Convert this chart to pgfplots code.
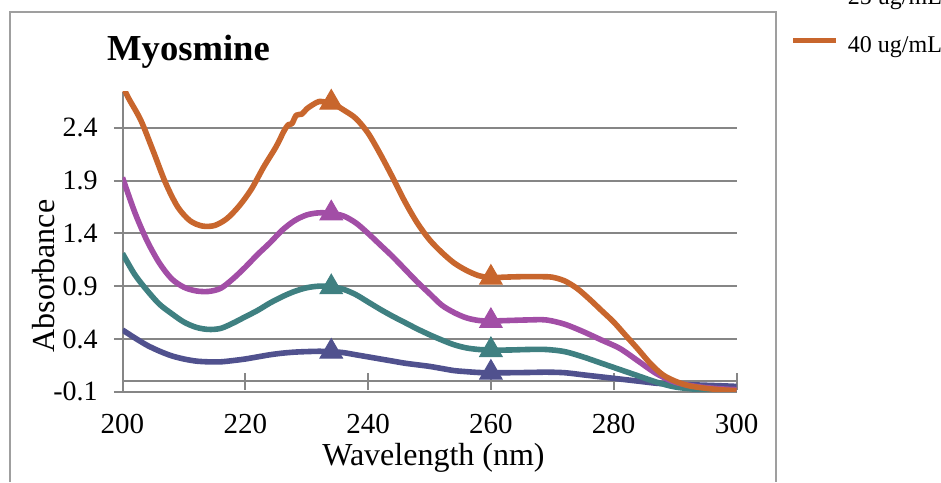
\documentclass[border=0pt]{standalone}
\usepackage{pgfplots}
\pgfplotsset{compat=1.18}
\usepackage{fontspec}
\setmainfont{Liberation Serif}
\definecolor{cnavy}{RGB}{80,81,142}
\definecolor{cteal}{RGB}{63,128,129}
\definecolor{cpurple}{RGB}{162,78,166}
\definecolor{corange}{RGB}{200,102,45}
\definecolor{cgrid}{RGB}{134,134,134}
\begin{document}
\begin{tikzpicture}
\begin{axis}[
    name=ax, at={(0,0)}, anchor=south west,
    scale only axis, width=307pt, height=149.85pt,
    xmin=200, xmax=300, ymin=-0.1, ymax=2.74,
    axis y line=left, axis x line=middle,
    every inner x axis line/.append style={-},
    every outer y axis line/.append style={-},
    axis line style={cgrid, line width=1pt},
    hide obscured x ticks=false,
    xtick={200,220,...,300},
    ytick={-0.1,0.4,0.9,1.4,1.9,2.4},
    major tick length=8.5pt, tick align=center,
    tick style={cgrid, line width=1pt},
    ymajorgrids, major grid style={cgrid, line width=1pt},
    /pgf/number format/assume math mode=true,
    xticklabel style={font=\fontsize{14.5}{16}\selectfont, anchor=base, yshift=-21.9pt},
    yticklabel style={font=\fontsize{14}{16}\selectfont, anchor=east, inner sep=0pt, xshift=-8pt,
        /pgf/number format/.cd, fixed, fixed zerofill, precision=1},
    title={Myosmine},
    title style={at={(axis description cs:0.1075,1.0667)}, anchor=base, yshift=0pt, font=\bfseries\fontsize{18.3}{20}\selectfont},
    xlabel={Wavelength (nm)},
    xlabel style={at={(axis description cs:0.5065,-0.2446)}, anchor=base, font=\fontsize{16}{18}\selectfont},
    ylabel={Absorbance},
    ylabel style={at={(axis description cs:-0.1279,0.386)}, anchor=center, font=\fontsize{16}{18}\selectfont},
    legend style={at={(axis description cs:1.0871,1.1202)}, anchor=south west, draw=none, fill=none,
        inner sep=0pt, nodes={inner sep=0pt}, font=\fontsize{12}{14}\selectfont, row sep=14.4pt, column sep=4.5pt},
    legend cell align=left,
    legend image code/.code={\draw[#1] (0pt,2.7pt) -- (21.5pt,2.7pt);},
]
% 5 ug/mL
\addplot[cnavy, line width=2.8pt, line join=round, smooth] coordinates {
(200,0.485) (202,0.41) (204,0.34) (206,0.285) (208,0.24) (210,0.21) (212,0.19)
(214,0.183) (216,0.183) (218,0.195) (220,0.21) (222,0.23) (224,0.25) (226,0.265)
(228,0.275) (230,0.28) (232,0.283) (234,0.28) (236,0.27) (238,0.25) (240,0.23)
(242,0.21) (244,0.19) (246,0.17) (248,0.155) (250,0.14) (252,0.12) (254,0.10)
(256,0.09) (258,0.082) (260,0.08) (263,0.08) (266,0.082) (269,0.085) (272,0.08)
(275,0.06) (278,0.04) (281,0.02) (284,0.00) (287,-0.02) (290,-0.03) (294,-0.037)
(298,-0.045) (300,-0.05)
};
\addlegendentry{5 ug/mL}
\addplot[cnavy, only marks, mark=triangle*, mark size=6.5pt, line width=0.5pt, forget plot] coordinates {(234,0.28) (260,0.08)};
% 15 ug/mL
\addplot[cteal, line width=2.8pt, line join=round, smooth] coordinates {
(200,1.21) (202,1.01) (204,0.86) (206,0.73) (208,0.64) (210,0.56) (212,0.51)
(214,0.49) (216,0.50) (218,0.55) (220,0.61) (222,0.67) (224,0.74) (226,0.80)
(228,0.85) (230,0.885) (232,0.90) (234,0.895) (236,0.87) (238,0.82) (240,0.75)
(242,0.68) (244,0.615) (246,0.555) (248,0.495) (250,0.44) (252,0.39) (254,0.345)
(256,0.315) (258,0.30) (260,0.295) (263,0.295) (266,0.30) (269,0.30) (272,0.28)
(275,0.23) (278,0.17) (281,0.11) (284,0.05) (287,-0.01) (290,-0.055) (294,-0.08)
(298,-0.09) (300,-0.09)
};
\addlegendentry{15 ug/mL}
\addplot[cteal, only marks, mark=triangle*, mark size=6.5pt, line width=0.5pt, forget plot] coordinates {(234,0.89) (260,0.295)};
% 25 ug/mL
\addplot[cpurple, line width=2.8pt, line join=round, smooth] coordinates {
(200,1.93) (202,1.60) (204,1.33) (206,1.12) (208,0.97) (210,0.89) (212,0.855)
(214,0.85) (216,0.88) (218,0.97) (220,1.08) (222,1.20) (224,1.31) (226,1.43)
(228,1.52) (230,1.575) (232,1.595) (234,1.59) (236,1.565) (238,1.50) (240,1.40)
(242,1.29) (244,1.18) (246,1.06) (248,0.94) (250,0.83) (252,0.72) (254,0.65)
(256,0.60) (258,0.575) (260,0.57) (263,0.575) (266,0.58) (269,0.58) (272,0.54)
(275,0.47) (278,0.39) (281,0.31) (284,0.19) (287,0.07) (290,-0.01) (294,-0.055)
(298,-0.075) (300,-0.08)
};
\addlegendentry{25 ug/mL}
\addplot[cpurple, only marks, mark=triangle*, mark size=6.5pt, line width=0.5pt, forget plot] coordinates {(234,1.59) (260,0.57)};
% 40 ug/mL
\addplot[corange, line width=2.8pt, line join=round, smooth] coordinates {
(200,2.80) (201,2.68) (203,2.47) (205,2.18) (207,1.88) (209,1.65) (211,1.52)
(213,1.47) (215,1.475) (217,1.54) (219,1.66) (221,1.82) (223,2.03) (225,2.22)
(226.3,2.37) (227,2.43) (227.6,2.44) (228.3,2.52) (229.2,2.53) (230,2.58)
(231,2.62) (232,2.65) (233,2.645) (234,2.64) (236,2.57) (238,2.49) (240,2.35)
(242,2.15) (244,1.93) (246,1.70) (248,1.50) (250,1.34) (252,1.22) (254,1.12)
(256,1.05) (258,1.00) (260,0.98) (262,0.985) (265,0.99) (268,0.99) (270,0.985)
(272,0.95) (274,0.88) (276,0.78) (278,0.67) (280,0.56) (282,0.43) (284,0.30)
(286,0.165) (288,0.06) (290,0.00) (292,-0.04) (294,-0.06) (297,-0.08) (300,-0.09)
};
\addlegendentry{40 ug/mL}
\addplot[corange, only marks, mark=triangle*, mark size=6.5pt, line width=0.5pt, forget plot] coordinates {(234,2.64) (260,0.98)};
\end{axis}
\begin{scope}[shift={(ax.south west)}]
\draw[gray!75, line width=1pt] (-56.25pt,-45.15pt) |- (326.75pt,189.85pt) -- (326.75pt,-45.15pt);
\pgfresetboundingbox
\useasboundingbox (-61.25pt,-45.15pt) rectangle (409.25pt,195.85pt);
\end{scope}
\end{tikzpicture}
\end{document}
